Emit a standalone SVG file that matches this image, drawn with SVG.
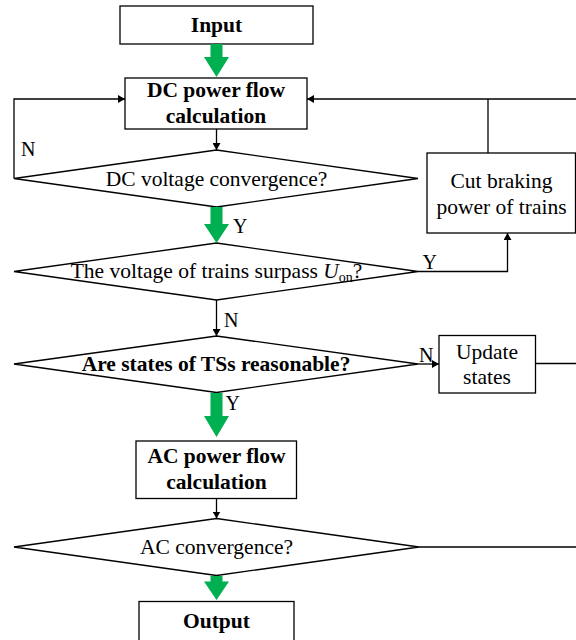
<svg xmlns="http://www.w3.org/2000/svg" width="576" height="640" viewBox="0 0 576 640">
<style>
.box{fill:#fff;stroke:#000;stroke-width:1.3}
.ln{fill:none;stroke:#000;stroke-width:1.3}
.g{fill:#00B050;stroke:none}
.t{font-family:"Liberation Serif","Times New Roman",serif;font-size:21.5px;fill:#000;text-anchor:middle}
.b{font-weight:bold}
.lbl{font-family:"Liberation Serif","Times New Roman",serif;font-size:20px;fill:#000}
</style>
<defs>
<marker id="ah" markerUnits="userSpaceOnUse" markerWidth="7" markerHeight="8" refX="7" refY="4" orient="auto">
<path d="M0,0 L7,4 L0,8 z" fill="#000"/>
</marker>
</defs>

<g id="input"><rect class="box" x="120" y="6" width="193" height="38"/><text class="t b" x="216.5" y="32">Input</text></g>
<g id="dcpf"><rect class="box" x="125" y="78" width="182" height="51"/><text class="t b" x="216" y="97">DC power flow</text><text class="t b" x="216" y="123">calculation</text></g>
<g id="dcconv"><polygon class="box" points="216.5,150 418,178.5 216.5,207 14,178.5"/><text class="t" x="216.5" y="186">DC voltage convergence?</text></g>
<g id="cut"><rect class="box" x="427" y="153" width="148.5" height="80"/><text class="t" x="501.5" y="188">Cut braking</text><text class="t" x="501.5" y="213.5">power of trains</text></g>
<g id="surpass"><polygon class="box" points="216.5,243 418,271.5 216.5,300 14,271.5"/><text class="t" x="216.5" y="278">The voltage of trains surpass <tspan font-style="italic">U</tspan><tspan font-size="14" dy="4">on</tspan><tspan dy="-4">?</tspan></text></g>
<g id="tss"><polygon class="box" points="216.5,336 418,364 216.5,392.5 14,364"/><text class="t b" x="216" y="371">Are states of TSs reasonable?</text></g>
<g id="update"><rect class="box" x="439" y="335.5" width="96.5" height="57.5"/><text class="t" x="487" y="358.5">Update</text><text class="t" x="487" y="383.5">states</text></g>
<g id="acpf"><rect class="box" x="136" y="441" width="160.5" height="57.5"/><text class="t b" x="216.5" y="463">AC power flow</text><text class="t b" x="216.5" y="488.5">calculation</text></g>
<g id="acconv"><polygon class="box" points="216.5,518.5 419,547 216.5,575.5 14,547"/><text class="t" x="216.5" y="553.5">AC convergence?</text></g>
<g id="output"><rect class="box" x="139" y="601.5" width="155" height="40"/><text class="t b" x="216.5" y="628">Output</text></g>

<g id="connectors">
<polygon class="g" points="210.5,44 222.5,44 222.5,57 229,57 216.5,77 204,57 210.5,57"/>
<polygon class="g" points="210.5,207 222.5,207 222.5,224 229,224 216.5,243 204,224 210.5,224"/>
<polygon class="g" points="210.5,393 222.5,393 222.5,416 229,416 216.5,437 204,416 210.5,416"/>
<polygon class="g" points="210.5,576 222.5,576 222.5,581.5 229,581.5 216.5,600 204,581.5 210.5,581.5"/>
<line class="ln" x1="216.5" y1="129" x2="216.5" y2="150" marker-end="url(#ah)"/>
<line class="ln" x1="216.5" y1="300" x2="216.5" y2="336" marker-end="url(#ah)"/>
<line class="ln" x1="216.5" y1="498.5" x2="216.5" y2="518.5" marker-end="url(#ah)"/>
<polyline class="ln" points="14,178.5 14,99 125,99" marker-end="url(#ah)"/>
<line class="ln" x1="576" y1="99" x2="307" y2="99" marker-end="url(#ah)"/>
<line class="ln" x1="488" y1="153" x2="488" y2="99"/>
<polyline class="ln" points="418,271.5 507.5,271.5 507.5,233" marker-end="url(#ah)"/>
<line class="ln" x1="418" y1="364" x2="439" y2="364" marker-end="url(#ah)"/>
<line class="ln" x1="535.5" y1="363.5" x2="576" y2="363.5"/>
<line class="ln" x1="419" y1="547" x2="576" y2="547"/>
<text class="lbl" x="21" y="156">N</text>
<text class="lbl" x="233" y="233">Y</text>
<text class="lbl" x="422.5" y="269">Y</text>
<text class="lbl" x="224" y="327">N</text>
<text class="lbl" x="419" y="361.5">N</text>
<text class="lbl" x="225.5" y="410">Y</text>
</g>
</svg>
